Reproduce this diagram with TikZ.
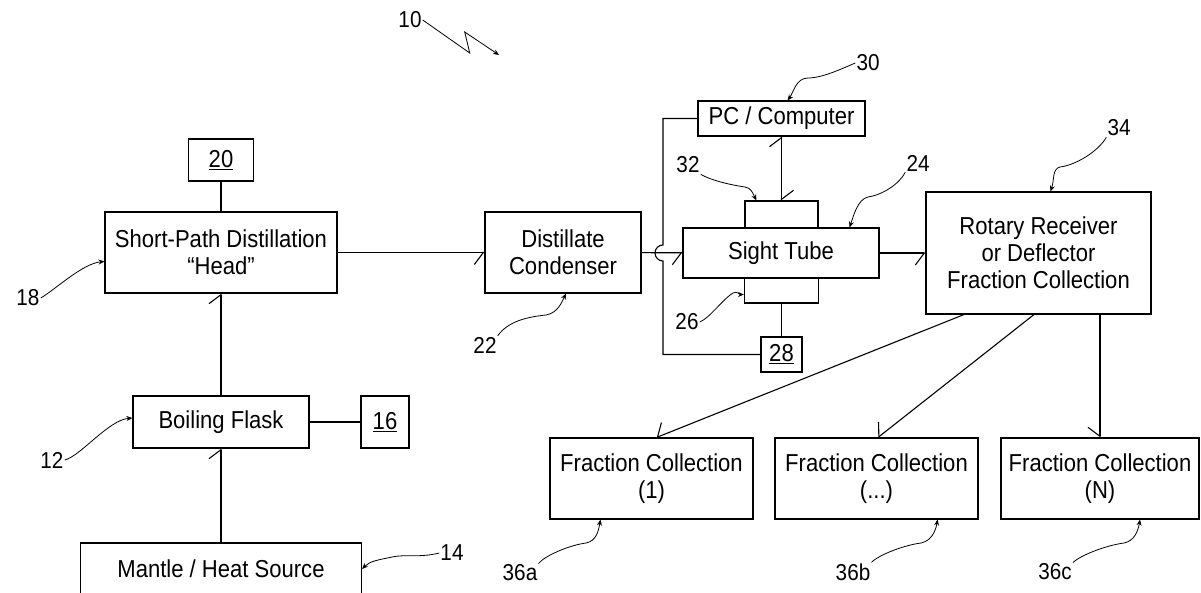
\documentclass[tikz,border=0pt]{standalone}
\usepackage{fontspec}
\setmainfont[FakeStretch=0.9]{Liberation Sans}
\usetikzlibrary{arrows.meta,positioning}

\begin{document}
\begin{tikzpicture}[
  x=1pt, y=-1pt,
  font=\fontsize{24.5}{27}\selectfont,
  block/.style={rectangle, draw, line width=1.1pt, align=center, inner sep=0pt},
  numbox/.style={block},
  line/.style={draw, line width=1.1pt},
  barbr/.style={line, -{Straight Barb[right, length=9pt, width=24pt]}},
  barbl/.style={line, -{Straight Barb[left, length=9pt, width=24pt]}},
  lead/.style={draw, line width=0.8pt, -{Stealth[length=6pt, width=5pt]}},
  refnum/.style={inner sep=1pt, font=\fontsize{23}{25}\selectfont}
]
\useasboundingbox (0,0) rectangle (1201,593);

% left column
\node[numbox, minimum width=65pt, minimum height=42pt] (n20) at (221,160) {\underline{20}};
\node[block, minimum width=232pt, minimum height=81pt] (head) at (221,252.5) {Short-Path Distillation\\“Head”};
\node[block, minimum width=176pt, minimum height=52pt] (flask) at (221,422) {Boiling Flask};
\node[numbox, minimum width=48pt, minimum height=52pt] (n16) at (385,422) {\underline{16}};
\node[block, minimum width=281pt, minimum height=52pt] (mantle) at (221,569) {Mantle / Heat Source};

% condenser and sight tube
\node[block, minimum width=156pt, minimum height=81pt] (cond) at (563,252.5) {Distillate\\Condenser};
\node[block, minimum width=167pt, minimum height=35pt] (pc) at (781.5,118.5) {PC / Computer};
\node[block, minimum width=73pt, minimum height=27pt] (jtop) at (781.5,214.5) {};
\node[block, minimum width=74pt, minimum height=25pt] (jbot) at (781.5,290.5) {};
\node[block, minimum width=196pt, minimum height=50pt, fill=white] (sight) at (781,253) {Sight Tube};
\node[numbox, minimum width=41pt, minimum height=35pt] (n28) at (781.5,354.5) {\underline{28}};
\coordinate (hop) at (663,253);

% receiver and fractions
\node[block, minimum width=225pt, minimum height=122pt] (rotary) at (1038.5,253) {Rotary Receiver\\or Deflector\\Fraction Collection};
\node[block, minimum width=203pt, minimum height=81pt] (frac1) at (651.5,478.5) {Fraction Collection\\(1)};
\node[block, minimum width=203pt, minimum height=81pt] (fracm) at (876.5,478.5) {Fraction Collection\\(...)};
\node[block, minimum width=198pt, minimum height=81pt] (fracn) at (1100,478.5) {Fraction Collection\\(N)};

% reference numerals
\node[refnum] (r10) at (410,20) {10};
\coordinate (z10) at (499,55);
\node[refnum] (r18) at (28,298) {18};
\node[refnum] (r12) at (52,460) {12};
\node[refnum] (r14) at (452,553) {14};
\node[refnum] (r22) at (485,345) {22};
\node[refnum] (r30) at (868,63) {30};
\node[refnum] (r32) at (688,165) {32};
\node[refnum] (r24) at (918,163) {24};
\node[refnum] (r34) at (1119,128) {34};
\node[refnum] (r26) at (687,322) {26};
\node[refnum] (r36a) at (520,573) {36a};
\node[refnum] (r36b) at (853,572) {36b};
\node[refnum] (r36c) at (1055,572) {36c};

% flow
\path[line] (n20) -- (head);
\path[barbr] (head) -- (cond);
\path[barbl] (flask) -- (head);
\path[line] (flask) -- (n16);
\path[barbl] (mantle) -- (flask);
\path[barbr] (cond) -- (sight);
\path[line, {Straight Barb[left, length=9pt, width=24pt]}-{Straight Barb[left, length=9pt, width=24pt]}] (pc) -- (jtop);
\path[line] (jbot) -- (n28);
\path[line] (pc.west) -| ([yshift=8pt]hop) arc[start angle=90, end angle=270, radius=8pt] |- (n28.west);
\path[barbr] (sight) -- (rotary);
\path[barbr] ([xshift=-74.5pt]rotary.south) -- ([xshift=5pt]frac1.north);
\path[barbr] ([xshift=-4.5pt]rotary.south) -- ([xshift=1.5pt]fracm.north);
\path[barbr] (rotary.south -| fracn.north) -- (fracn.north);

% leaders
\path[lead] (r10.east) -- ++(47,33) -- ++(-5,-21) -- (z10);
\path[lead] (r18.east) .. controls +(14,-8) and +(-22,2) .. ([yshift=-9pt]head.west);
\path[lead] (r12.east) .. controls +(16,-4) and +(-24,2) .. ([yshift=4pt]flask.west);
\path[lead] (r14.west) .. controls +(-20,5) and +(14,-3) .. (392,557) .. controls +(-14,3) and +(8,-8) .. (mantle.east);
\path[lead] (r22.north east) .. controls +(10,-14) and +(-20,2) .. (546,315) .. controls +(12,-2) and +(-4,8) .. ([xshift=3pt]cond.south);
\path[lead] (r30.west) .. controls +(-14,6) and +(14,0) .. (808,78) .. controls +(-12,0) and +(6,-8) .. ([xshift=6pt]pc.north);
\path[lead] (r32.south east) .. controls +(10,6) and +(-14,-2) .. (745,187) .. controls +(6,1) and +(-4,-8) .. ([xshift=12pt]jtop.north west);
\path[lead] (r24.south west) .. controls +(-6,12) and +(14,-2) .. (868,197) .. controls +(-10,2) and +(4,-12) .. ([xshift=-30pt]sight.north east);
\path[lead] (r34.south west) .. controls +(-8,14) and +(16,-2) .. (1060,167) .. controls +(-8,2) and +(4,-12) .. ([xshift=12pt]rotary.north);
\path[lead] (r26.east) .. controls +(10,-4) and +(-10,6) .. (733,293) .. controls +(4,-2) and +(-4,0) .. ([yshift=-4pt]jbot.west);
\path[lead] (r36a.north east) .. controls +(6,-8) and +(-16,2) .. (586,543) .. controls +(10,-2) and +(-2,12) .. ([xshift=51pt]frac1.south west);
\path[lead] (r36b.north east) .. controls +(8,-8) and +(-16,2) .. (921,543) .. controls +(10,-2) and +(-2,12) .. ([xshift=-41pt]fracm.south east);
\path[lead] (r36c.north east) .. controls +(8,-8) and +(-16,2) .. (1124,543) .. controls +(10,-2) and +(-2,12) .. ([xshift=40pt]fracn.south);

\end{tikzpicture}
\end{document}
